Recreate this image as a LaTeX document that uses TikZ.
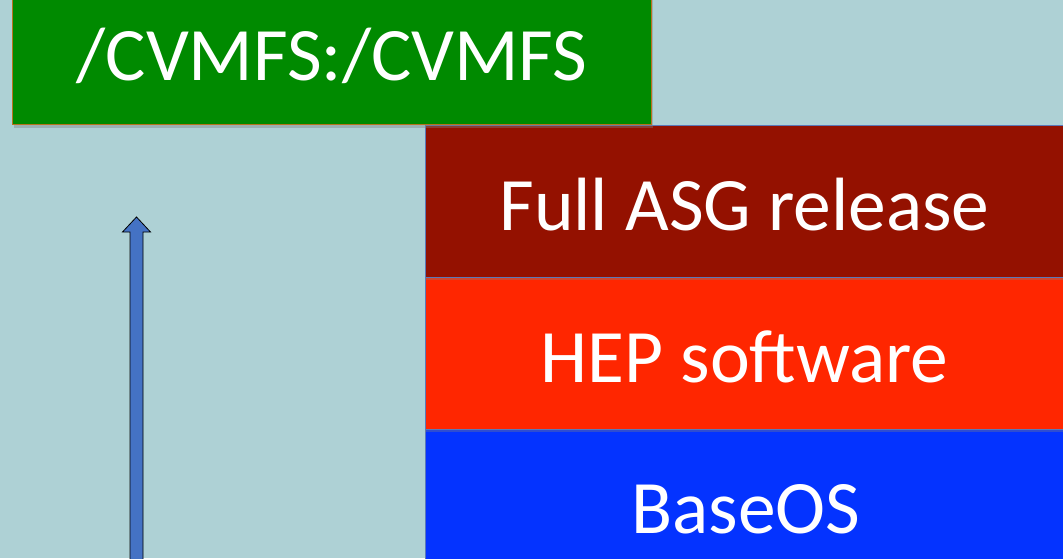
\documentclass[tikz,border=0pt]{standalone}
\usepackage{fontspec}
\setmainfont{Carlito}
\usetikzlibrary{shadows,calc}
\definecolor{bgc}{HTML}{AED1D5}
\definecolor{greenc}{HTML}{008A00}
\definecolor{greenb}{HTML}{B8731E}
\definecolor{darkredc}{HTML}{941100}
\definecolor{redc}{HTML}{FF2600}
\definecolor{bluec}{HTML}{0433FF}
\definecolor{edgec}{HTML}{5B78B8}
\definecolor{arrowc}{HTML}{4472C4}
\tikzset{
  layerbox/.style={draw=edgec, line width=0.8pt, inner sep=0pt, outer sep=0pt,
    minimum width=640pt, minimum height=152pt, anchor=north west,
    drop shadow={shadow xshift=0pt, shadow yshift=-3pt, opacity=0.35}},
  boxtext/.style={text=white, font=\fontsize{75.5}{80}\selectfont, anchor=base, inner sep=0pt}
}
\begin{document}
\begin{tikzpicture}[x=1pt,y=-1pt]
\useasboundingbox (0,0) rectangle (1063,558);
\clip (0,0) rectangle (1063,558);
\fill[bgc] (0,0) rectangle (1063,558);
% arrow
\coordinate (tip) at (136.5,217);
\coordinate (tail) at (136.5,575);
\draw[fill=arrowc, draw=black, line width=0.8pt, line join=miter]
  ($(tail)+(-6.5,0)$) -- ($(tip)+(-6.5,15)$) -- ($(tip)+(-14,15)$) -- (tip)
  -- ($(tip)+(14,15)$) -- ($(tip)+(6.5,15)$) -- ($(tail)+(6.5,0)$) -- cycle;
% layers (bottom first so shadows fall on lower ones)
\node[layerbox, fill=bluec, minimum height=140pt] (base) at (425,429) {};
\node[layerbox, fill=redc] (hep) at (425,277) {};
\node[layerbox, fill=darkredc] (asg) at (425,125) {};
% green box
\node[draw=greenb, line width=0.8pt, fill=greenc, inner sep=0pt, outer sep=0pt,
  minimum width=639pt, minimum height=144pt, anchor=south west,
  drop shadow={shadow xshift=2pt, shadow yshift=-4pt, opacity=0.4}] (cvmfs) at (12,124) {};
% texts
\node[boxtext] (cvmfst) at (332,80) {/CVMFS:/CVMFS};
\node[boxtext] (asgt) at (744.5,230) {Full ASG release};
\node[boxtext] (hept) at (744.5,382) {HEP software};
\node[boxtext] (baset) at (746,533) {BaseOS};
\end{tikzpicture}
\end{document}
